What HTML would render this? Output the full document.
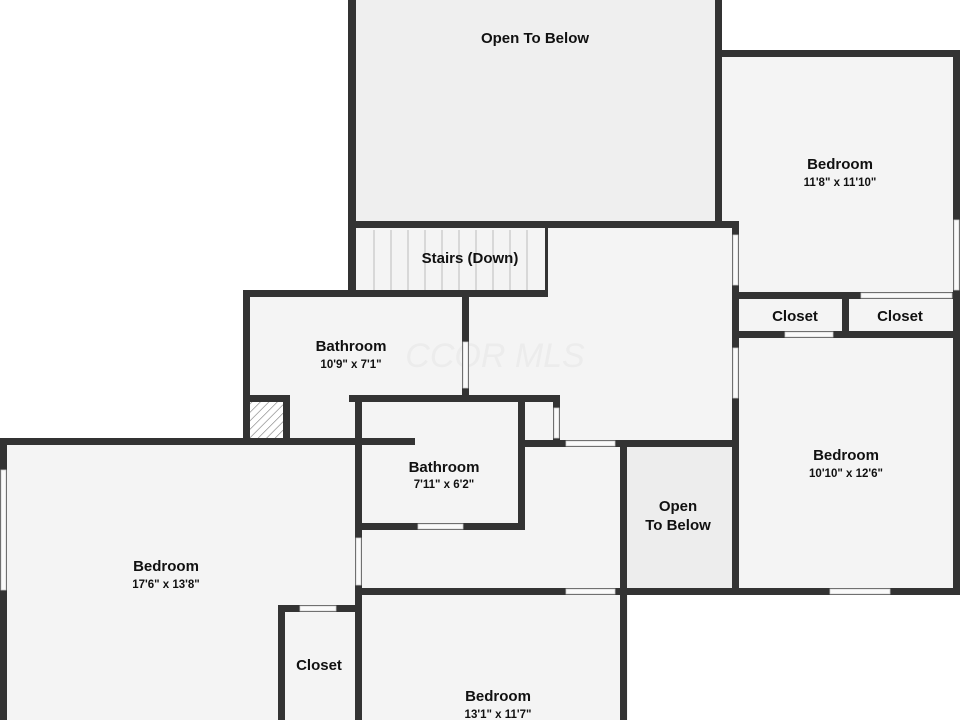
<!DOCTYPE html>
<html><head><meta charset="utf-8"><style>
html,body{margin:0;padding:0;background:#fff;}
svg{display:block;}
text{font-family:"Liberation Sans","DejaVu Sans",sans-serif;fill:#111;text-anchor:middle;}
.t{font-size:15px;font-weight:bold;}
.d{font-size:11.5px;font-weight:bold;}
</style></head><body>
<svg width="960" height="720" viewBox="0 0 960 720" xmlns="http://www.w3.org/2000/svg">
<defs>
<pattern id="h" width="6" height="6" patternUnits="userSpaceOnUse" patternTransform="rotate(45)">
<rect width="6" height="6" fill="#fff"/><line x1="0" y1="0" x2="0" y2="6" stroke="#777" stroke-width="1.2"/>
</pattern>
</defs>
<rect width="960" height="720" fill="#fff"/>
<rect x="350" y="0" width="370" height="228" fill="#efefef"/>
<rect x="720" y="50" width="240" height="545" fill="#f4f4f4"/>
<rect x="350" y="222" width="385" height="220" fill="#f4f4f4"/>
<rect x="243" y="290" width="230" height="155" fill="#f4f4f4"/>
<rect x="0" y="440" width="628" height="280" fill="#f4f4f4"/>
<rect x="622" y="445" width="113" height="145" fill="#ededed"/>
<rect x="250" y="400" width="36" height="38" fill="url(#h)"/>
<g stroke="#bbb" stroke-width="1">
<line x1="374" y1="230" x2="374" y2="290"/><line x1="391" y1="230" x2="391" y2="290"/>
<line x1="408" y1="230" x2="408" y2="290"/><line x1="425" y1="230" x2="425" y2="290"/>
<line x1="442" y1="230" x2="442" y2="290"/><line x1="459" y1="230" x2="459" y2="290"/>
<line x1="476" y1="230" x2="476" y2="290"/><line x1="493" y1="230" x2="493" y2="290"/>
<line x1="510" y1="230" x2="510" y2="290"/><line x1="527" y1="230" x2="527" y2="290"/>
</g>
<text x="495" y="367" style="font-size:34px;font-weight:normal;fill:#ececec;font-style:italic">CCOR MLS</text>
<g fill="#333">
<rect x="348" y="0" width="8" height="297"/>
<rect x="715" y="0" width="7" height="228"/>
<rect x="715" y="50" width="245" height="7"/>
<rect x="953" y="50" width="7" height="545"/>
<rect x="348" y="221" width="390" height="7"/>
<rect x="732" y="221" width="7" height="374"/>
<rect x="243" y="290" width="305" height="7"/>
<rect x="545" y="228" width="3" height="69"/>
<rect x="243" y="290" width="7" height="155"/>
<rect x="462" y="290" width="7" height="112"/>
<rect x="250" y="395" width="40" height="7"/>
<rect x="283" y="395" width="7" height="50"/>
<rect x="349" y="395" width="211" height="7"/>
<rect x="553" y="395" width="7" height="50"/>
<rect x="0" y="438" width="415" height="7"/>
<rect x="355" y="395" width="7" height="325"/>
<rect x="518" y="395" width="7" height="135"/>
<rect x="355" y="523" width="170" height="7"/>
<rect x="525" y="440" width="210" height="7"/>
<rect x="620" y="440" width="7" height="280"/>
<rect x="355" y="588" width="605" height="7"/>
<rect x="0" y="438" width="7" height="282"/>
<rect x="278" y="605" width="80" height="7"/>
<rect x="278" y="605" width="7" height="115"/>
<rect x="735" y="292" width="218" height="7"/>
<rect x="735" y="331" width="225" height="7"/>
<rect x="842" y="292" width="7" height="46"/>
</g>
<g fill="#fafafa" stroke="#ccc" stroke-width="0.8">
<rect x="463" y="342" width="5" height="46"/>
<rect x="554" y="408" width="5" height="30"/>
<rect x="418" y="524" width="45" height="5"/>
<rect x="566" y="441" width="49" height="5"/>
<rect x="356" y="538" width="5" height="47"/>
<rect x="566" y="589" width="49" height="5"/>
<rect x="300" y="606" width="36" height="5"/>
<rect x="1" y="470" width="5" height="120"/>
<rect x="733" y="235" width="5" height="50"/>
<rect x="733" y="348" width="5" height="50"/>
<rect x="861" y="293" width="91" height="5"/>
<rect x="785" y="332" width="48" height="5"/>
<rect x="830" y="589" width="60" height="5"/>
<rect x="954" y="220" width="5" height="70"/>
</g>
<text class="t" x="535" y="43">Open To Below</text>
<text class="t" x="840" y="169">Bedroom</text>
<text class="d" x="840" y="186">11'8" x 11'10"</text>
<text class="t" x="470" y="263">Stairs (Down)</text>
<text class="t" x="351" y="351">Bathroom</text>
<text class="d" x="351" y="368">10'9" x 7'1"</text>
<text class="t" x="795" y="321">Closet</text>
<text class="t" x="900" y="321">Closet</text>
<text class="t" x="444" y="472">Bathroom</text>
<text class="d" x="444" y="488">7'11" x 6'2"</text>
<text class="t" x="678" y="511">Open</text>
<text class="t" x="678" y="530">To Below</text>
<text class="t" x="846" y="460">Bedroom</text>
<text class="d" x="846" y="477">10'10" x 12'6"</text>
<text class="t" x="166" y="571">Bedroom</text>
<text class="d" x="166" y="588">17'6" x 13'8"</text>
<text class="t" x="319" y="670">Closet</text>
<text class="t" x="498" y="701">Bedroom</text>
<text class="d" x="498" y="718">13'1" x 11'7"</text>
</svg>
</body></html>
